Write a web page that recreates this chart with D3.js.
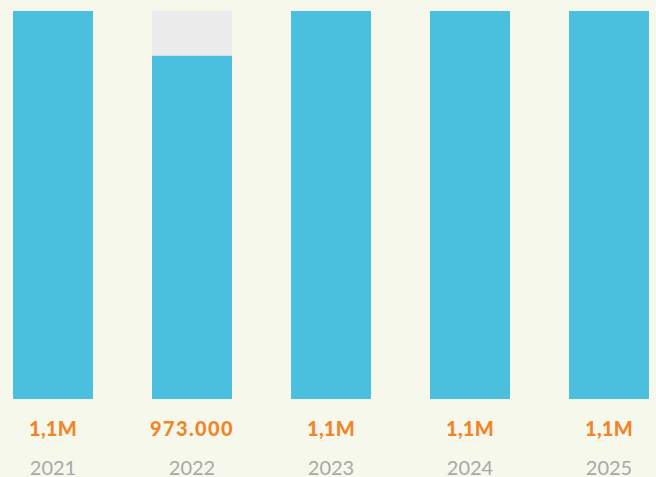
<!DOCTYPE html>
<html><head><meta charset="utf-8">
<script src="https://cdn.jsdelivr.net/npm/d3@7"></script>
<style>html,body{margin:0;padding:0;background:#f7f8ec;overflow:hidden}</style>
</head><body><svg id="c" width="656" height="477"></svg>
<script>
const years = ["2021","2022","2023","2024","2025"];
const values = [1100000, 973000, 1100000, 1100000, 1100000];
const labels = ["1,1M","973.000","1,1M","1,1M","1,1M"];
const maxValue = 1100000;

const svg = d3.select("#c");
const x = d3.scaleBand().domain(years).range([13, 649]).paddingInner(59/139).paddingOuter(0);
const y = d3.scaleLinear().domain([0, maxValue]).range([399, 11]);

svg.selectAll("rect.bg").data(years).join("rect").attr("class","bg")
  .attr("x", d => x(d)).attr("width", x.bandwidth())
  .attr("y", y(maxValue)).attr("height", y(0) - y(maxValue))
  .attr("fill", "#ececec");

svg.selectAll("rect.bar").data(values).join("rect").attr("class","bar")
  .attr("x", (d,i) => x(years[i])).attr("width", x.bandwidth())
  .attr("y", d => y(d)).attr("height", d => y(0) - y(d))
  .attr("fill", "#4ac0de");

svg.selectAll("text.val").data(labels).join("text").attr("class","val")
  .attr("x", (d,i) => x(years[i]) + x.bandwidth()/2).attr("y", 436)
  .attr("text-anchor","middle").attr("font-family","Lato, 'Noto Sans', sans-serif")
  .attr("font-weight","900").attr("font-size", 20).attr("letter-spacing", d => d.length > 4 ? 1.4 : 0.2).attr("fill","#f0862a")
  .text(d => d);

svg.selectAll("text.yr").data(years).join("text").attr("class","yr")
  .attr("x", d => x(d) + x.bandwidth()/2).attr("y", 475)
  .attr("text-anchor","middle").attr("font-family","Lato, 'Noto Sans', sans-serif")
  .attr("font-weight","400").attr("font-size", 20).attr("fill","#a8a8a8")
  .text(d => d);
</script></body></html>
